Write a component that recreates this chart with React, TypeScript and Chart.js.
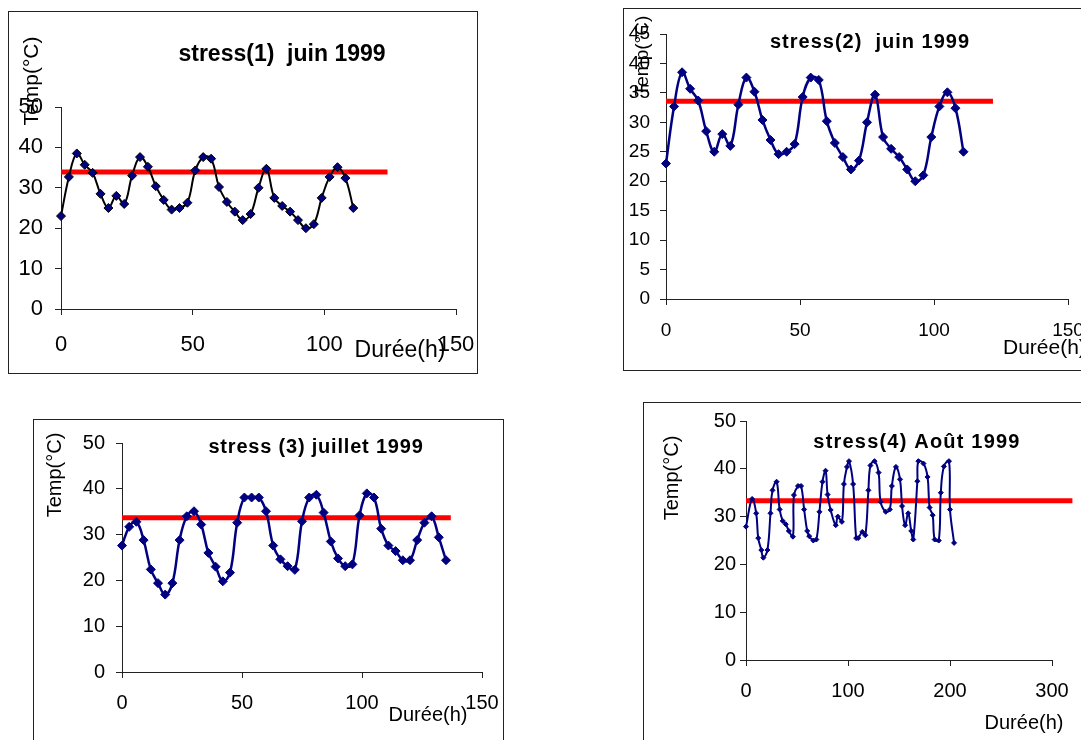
import React, { useEffect, useRef } from 'react';
import { Chart, registerables } from 'chart.js';

Chart.register(...registerables);
Chart.defaults.font.family = '"Liberation Sans", Arial, sans-serif';

// ---- Data ----
const juinHours = [0, 3, 6, 9, 12, 15, 18, 21, 24, 27, 30, 33, 36, 39, 42, 45, 48, 51, 54, 57, 60, 63, 66, 69, 72, 75, 78, 81, 84, 87, 90, 93, 96, 99, 102, 105, 108, 111];
const juinTemps = [23, 32.7, 38.5, 35.7, 33.7, 28.5, 25, 28, 26, 33, 37.6, 35.2, 30.4, 27, 24.6, 25, 26.3, 34.3, 37.6, 37.2, 30.2, 26.5, 24.1, 22, 23.5, 30, 34.7, 27.5, 25.5, 24.1, 22, 20, 21, 27.5, 32.7, 35.1, 32.4, 25];

const juilletHours = [0, 3, 6, 9, 12, 15, 18, 21, 24, 27, 30, 33, 36, 39, 42, 45, 48, 51, 54, 57, 60, 63, 66, 69, 72, 75, 78, 81, 84, 87, 90, 93, 96, 99, 102, 105, 108, 111, 114, 117, 120, 123, 126, 129, 132, 135];
const juilletTemps = [27.6, 31.7, 32.8, 28.8, 22.4, 19.4, 16.9, 19.4, 28.8, 34.0, 35.1, 32.2, 26.0, 23.0, 19.8, 21.7, 32.6, 38.1, 38.1, 38.1, 35.1, 27.6, 24.6, 23.1, 22.3, 32.9, 38.1, 38.7, 34.8, 28.5, 24.8, 23.1, 23.5, 34.2, 39.0, 38.1, 31.3, 27.6, 26.4, 24.4, 24.4, 28.8, 32.6, 34.0, 29.4, 24.4];

const aoutHours = [0, 6, 10, 12, 15, 17, 21, 24, 26, 30, 33, 36, 39, 42, 46, 47, 51, 54, 57, 60, 62, 66, 69, 72, 75, 78, 80, 83, 88, 90, 94, 96, 99, 101, 105, 108, 110, 114, 117, 120, 122, 126, 130, 132, 137, 141, 143, 147, 151, 153, 156, 159, 162, 164, 168, 169, 174, 178, 180, 183, 185, 189, 191, 194, 199, 200, 204];
const aoutTemps = [27.9, 33.7, 30.7, 25.5, 23, 21.4, 23, 30.7, 35.5, 37.3, 31.5, 29.1, 28.4, 27, 25.8, 34.5, 36.4, 36.4, 31.5, 27, 25.9, 25, 25.2, 31, 37.3, 39.6, 34.6, 31.4, 28.2, 30, 28.9, 36.8, 40.4, 41.6, 36.8, 25.5, 25.5, 26.8, 26.1, 35.5, 40.7, 41.6, 39.2, 33.1, 31, 31.5, 36.4, 40.4, 37.8, 32.2, 28.2, 30.7, 27, 25.2, 37.4, 41.6, 41.1, 38.3, 31.9, 30.3, 25.2, 25, 35, 40.5, 41.6, 31.5, 24.5];

// threshold lines (red)
const seuil1Hours = [0, 124];
const seuil1Temps = [33.9, 33.9];
const seuil2Hours = [0, 122];
const seuil2Temps = [33.6, 33.6];
const seuil3Hours = [0, 137];
const seuil3Temps = [33.7, 33.7];
const seuil4Hours = [0, 320];
const seuil4Temps = [33.3, 33.3];

const titles = ['stress(1)  juin 1999', 'stress(2)  juin 1999', 'stress (3) juillet 1999', 'stress(4) Août 1999'];
const yTitle = 'Temp(°C)';
const xTitle = 'Durée(h)';

const FF = '"Liberation Sans", Arial, sans-serif';
const EXTRA = 60; // extra transparent canvas width to the right

type TextItem = { text: string; x: number; y: number; font: string; rotate?: boolean; align?: CanvasTextAlign; spacing?: number };

type Spec = {
  left: number; top: number; width: number; height: number;
  area: { left: number; top: number; right: number; bottom: number };
  xMax: number; xStep: number; yMax: number; yStep: number;
  fontSize: number; yPad: number; xPad: number;
  lineColor: string; lineWidth: number; pointRadius: number; pointBorder: string;
  hours: number[]; temps: number[]; sHours: number[]; sTemps: number[];
  texts: TextItem[];
};

const specs: Spec[] = [
  {
    left: 8, top: 11, width: 470, height: 363,
    area: { left: 52, top: 95, right: 447, bottom: 297 },
    xMax: 150, xStep: 50, yMax: 50, yStep: 10,
    fontSize: 22, yPad: 12, xPad: 17,
    lineColor: '#000000', lineWidth: 2, pointRadius: 4.5, pointBorder: '#000000',
    hours: juinHours, temps: juinTemps, sHours: seuil1Hours, sTemps: seuil1Temps,
    texts: [
      { text: titles[0], x: 282, y: 55, font: `bold 23px ${FF}` },
      { text: yTitle, x: 32, y: 81, font: `21px ${FF}`, rotate: true },
      { text: xTitle, x: 400, y: 351, font: `23px ${FF}` },
    ],
  },
  {
    left: 623, top: 8, width: 470, height: 363,
    area: { left: 42, top: 25, right: 444, bottom: 290 },
    xMax: 150, xStep: 50, yMax: 45, yStep: 5,
    fontSize: 19, yPad: 10, xPad: 14,
    lineColor: '#000080', lineWidth: 2.5, pointRadius: 4.5, pointBorder: '#000080',
    hours: juinHours, temps: juinTemps, sHours: seuil2Hours, sTemps: seuil2Temps,
    texts: [
      { text: titles[1], x: 870, y: 42, font: `bold 20px ${FF}`, spacing: 1 },
      { text: yTitle, x: 643, y: 56, font: `19px ${FF}`, rotate: true },
      { text: xTitle, x: 1003, y: 348, font: `21px ${FF}`, align: 'left' },
    ],
  },
  {
    left: 33, top: 419, width: 471, height: 340,
    area: { left: 88, top: 18, right: 448, bottom: 252 },
    xMax: 150, xStep: 50, yMax: 50, yStep: 10,
    fontSize: 20, yPad: 11, xPad: 13,
    lineColor: '#000080', lineWidth: 2.5, pointRadius: 4.5, pointBorder: '#000080',
    hours: juilletHours, temps: juilletTemps, sHours: seuil3Hours, sTemps: seuil3Temps,
    texts: [
      { text: titles[2], x: 316, y: 447, font: `bold 20px ${FF}`, spacing: 0.8 },
      { text: yTitle, x: 55, y: 475, font: `20px ${FF}`, rotate: true },
      { text: xTitle, x: 428, y: 715, font: `20px ${FF}` },
    ],
  },
  {
    left: 643, top: 402, width: 450, height: 340,
    area: { left: 102, top: 18, right: 408, bottom: 257 },
    xMax: 300, xStep: 100, yMax: 50, yStep: 10,
    fontSize: 20, yPad: 4, xPad: 13,
    lineColor: '#000080', lineWidth: 2, pointRadius: 2.5, pointBorder: '#000080',
    hours: aoutHours, temps: aoutTemps, sHours: seuil4Hours, sTemps: seuil4Temps,
    texts: [
      { text: titles[3], x: 917, y: 442, font: `bold 20px ${FF}`, spacing: 1.2 },
      { text: yTitle, x: 672, y: 478, font: `20px ${FF}`, rotate: true },
      { text: xTitle, x: 1024, y: 723, font: `20px ${FF}` },
    ],
  },
];

function makeTextPlugin(items: TextItem[]) {
  return {
    id: 'panelTexts',
    afterDraw(chart: any) {
      const ctx: CanvasRenderingContext2D = chart.ctx;
      for (const it of items) {
        ctx.save();
        ctx.font = it.font;
        ctx.fillStyle = '#000';
        ctx.textAlign = it.align || 'center';
        ctx.textBaseline = 'middle';
        (ctx as any).letterSpacing = `${it.spacing || 0}px`;
        ctx.translate(it.x, it.y);
        if (it.rotate) ctx.rotate(-Math.PI / 2);
        ctx.fillText(it.text, 0, 0);
        ctx.restore();
      }
    },
  };
}

function Panel({ spec }: { spec: Spec }) {
  const ref = useRef<HTMLCanvasElement>(null);
  const innerW = spec.width - 2;
  const innerH = spec.height - 2;
  const canvasW = innerW + EXTRA;
  useEffect(() => {
    const a = spec.area;
    const ox = spec.left + 1;
    const oy = spec.top + 1;
    const texts = spec.texts.map((t) => ({ ...t, x: t.x - ox, y: t.y - oy }));
    const chart = new Chart(ref.current as HTMLCanvasElement, {
      type: 'scatter',
      data: {
        datasets: [
          {
            data: spec.hours.map((h, i) => ({ x: h, y: spec.temps[i] })),
            showLine: true,
            borderColor: spec.lineColor,
            borderWidth: spec.lineWidth,
            tension: 0.4,
            pointStyle: 'rectRot',
            pointRadius: spec.pointRadius,
            pointBackgroundColor: '#000080',
            pointBorderColor: spec.pointBorder,
            pointBorderWidth: 1,
            clip: false,
          } as any,
          {
            data: spec.sHours.map((h, i) => ({ x: h, y: spec.sTemps[i] })),
            showLine: true,
            borderColor: '#ff0000',
            borderWidth: 5,
            pointRadius: 0,
            tension: 0,
            clip: false,
          } as any,
        ],
      },
      options: {
        animation: false,
        responsive: false,
        devicePixelRatio: 1,
        layout: { padding: { left: 0, top: a.top, right: canvasW - a.right, bottom: 0 } },
        plugins: { legend: { display: false }, tooltip: { enabled: false }, title: { display: false } },
        scales: {
          x: {
            type: 'linear',
            min: 0,
            max: spec.xMax,
            ticks: { stepSize: spec.xStep, color: '#000', padding: spec.xPad, maxRotation: 0, font: { size: spec.fontSize } },
            grid: { drawOnChartArea: false, drawTicks: true, tickLength: 6, color: '#222' },
            border: { color: '#222', width: 1 },
            afterFit: (s: any) => { s.height = innerH - a.bottom; },
          },
          y: {
            type: 'linear',
            min: 0,
            max: spec.yMax,
            ticks: { stepSize: spec.yStep, color: '#000', padding: spec.yPad, font: { size: spec.fontSize } },
            grid: { drawOnChartArea: false, drawTicks: true, tickLength: 6, color: '#222' },
            border: { color: '#222', width: 1 },
            afterFit: (s: any) => { s.width = a.left; },
          },
        },
      } as any,
      plugins: [makeTextPlugin(texts)],
    });
    return () => chart.destroy();
  }, []);
  return (
    <>
      <div
        style={{
          position: 'absolute',
          left: spec.left,
          top: spec.top,
          width: spec.width,
          height: spec.height,
          border: '1px solid #222',
          boxSizing: 'border-box',
          background: '#fff',
        }}
      />
      <canvas
        ref={ref}
        width={canvasW}
        height={innerH}
        style={{ position: 'absolute', left: spec.left + 1, top: spec.top + 1, display: 'block', width: canvasW, height: innerH }}
      />
    </>
  );
}

export default function App() {
  return (
    <div style={{ position: 'absolute', left: 0, top: 0, width: 1081, height: 740, overflow: 'hidden', background: '#fff' }}>
      {specs.map((s, i) => (
        <Panel key={i} spec={s} />
      ))}
    </div>
  );
}
